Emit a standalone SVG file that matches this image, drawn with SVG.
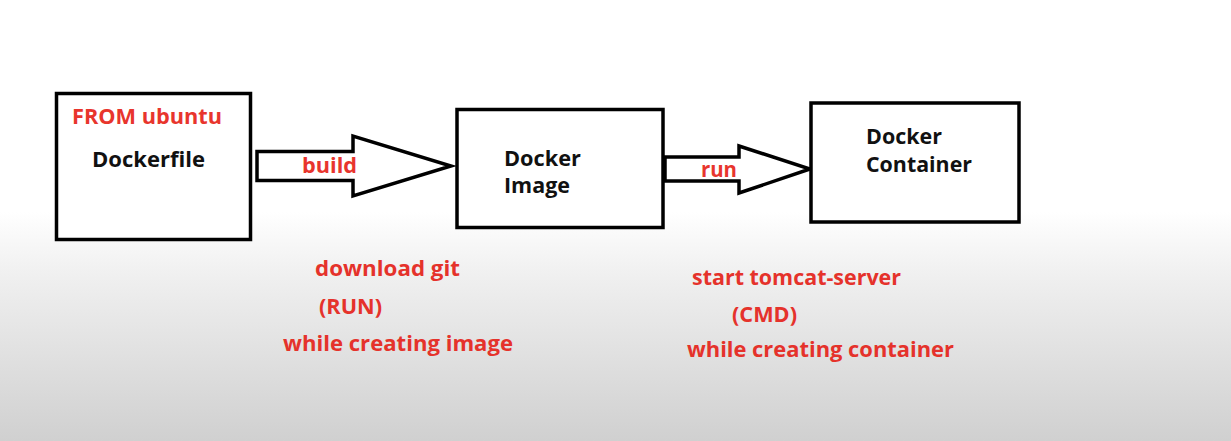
<svg xmlns="http://www.w3.org/2000/svg" width="1231" height="441" viewBox="0 0 1231 441">
<defs>
<linearGradient id="bg" x1="0" y1="0" x2="0" y2="1">
<stop offset="0" stop-color="#ffffff"/>
<stop offset="0.48" stop-color="#ffffff"/>
<stop offset="0.62" stop-color="#f0f0f0"/>
<stop offset="1" stop-color="#d0d0d0"/>
</linearGradient>
<style>
.box{fill:#ffffff;stroke:#000000;stroke-width:3.5}
.arrow{fill:#ffffff;stroke:#000000;stroke-width:3.5;stroke-linejoin:miter}
.t{font-family:"Open Sans","Noto Sans","Liberation Sans",sans-serif;font-weight:bold;font-size:21.5px;fill:#111111}
.r{font-family:"Open Sans","Noto Sans","Liberation Sans",sans-serif;font-weight:bold;font-size:21.5px;fill:#e8352d}
.n{font-family:"Open Sans","Noto Sans","Liberation Sans",sans-serif;font-weight:bold;font-size:21px;fill:#e5322b}
</style>
</defs>
<rect x="0" y="0" width="1231" height="441" fill="url(#bg)"/>
<g id="connectors">
<polygon class="arrow" points="257,151.5 353,151.5 353,136 451,166 353,196 353,180.5 257,180.5"/>
<polygon class="arrow" points="665,157 739,157 739,146 810,169 739,193 739,181 665,181"/>
<text class="r" x="302" y="172.5" textLength="55" lengthAdjust="spacingAndGlyphs">build</text>
<text class="r" x="701" y="177" textLength="36" lengthAdjust="spacingAndGlyphs">run</text>
</g>
<g id="dockerfile">
<rect class="box" x="56.5" y="93.5" width="194" height="146"/>
<text class="r" x="72" y="124" textLength="150" lengthAdjust="spacingAndGlyphs">FROM ubuntu</text>
<text class="t" x="92" y="167" textLength="113" lengthAdjust="spacingAndGlyphs">Dockerfile</text>
</g>
<g id="docker-image">
<rect class="box" x="457" y="109.5" width="206" height="118"/>
<text class="t" x="504" y="165.5" textLength="77" lengthAdjust="spacingAndGlyphs">Docker</text>
<text class="t" x="504" y="193" textLength="66" lengthAdjust="spacingAndGlyphs">Image</text>
</g>
<g id="docker-container">
<rect class="box" x="811" y="103" width="208" height="119"/>
<text class="t" x="866" y="144" textLength="76" lengthAdjust="spacingAndGlyphs">Docker</text>
<text class="t" x="866" y="172" textLength="106" lengthAdjust="spacingAndGlyphs">Container</text>
</g>
<g id="note-run">
<text class="n" x="315" y="276" textLength="145" lengthAdjust="spacingAndGlyphs">download git</text>
<text class="n" x="319" y="314" textLength="63" lengthAdjust="spacingAndGlyphs">(RUN)</text>
<text class="n" x="283" y="350.5" textLength="230" lengthAdjust="spacingAndGlyphs">while creating image</text>
</g>
<g id="note-cmd">
<text class="n" x="692" y="285" textLength="209" lengthAdjust="spacingAndGlyphs">start tomcat-server</text>
<text class="n" x="732" y="321.5" textLength="65" lengthAdjust="spacingAndGlyphs">(CMD)</text>
<text class="n" x="687" y="357" textLength="267" lengthAdjust="spacingAndGlyphs">while creating container</text>
</g>
</svg>
